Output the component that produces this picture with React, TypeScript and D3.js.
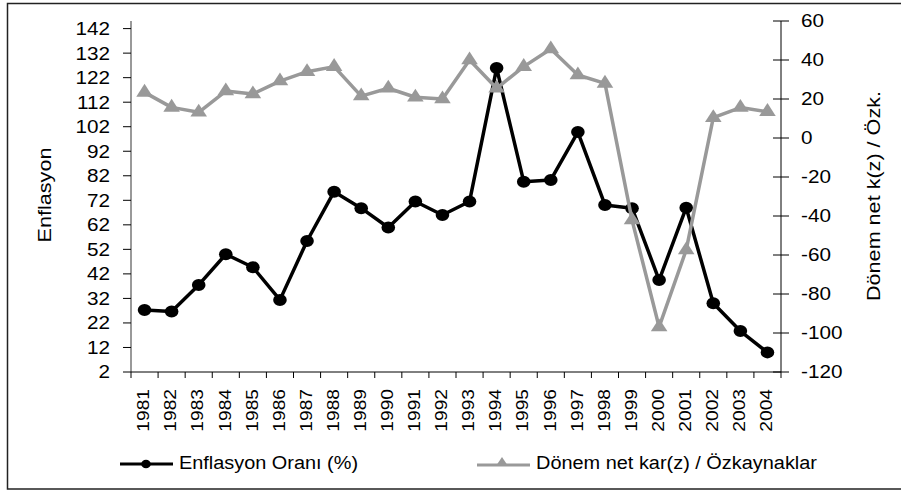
import { useEffect } from "react";
import { scaleBand, scaleLinear, line as d3_line, symbol, symbolTriangle } from "d3";

const years = [
  "1981", "1982", "1983", "1984", "1985", "1986", "1987", "1988", "1989", "1990", "1991", "1992",
  "1993", "1994", "1995", "1996", "1997", "1998", "1999", "2000", "2001", "2002", "2003", "2004",
];

// Enflasyon Oranı (%) - left axis
const inflation = [
  27.3, 26.7, 37.5, 50.0, 44.7, 31.4, 55.4, 75.5, 68.8, 60.9, 71.5, 66.0,
  71.5, 125.9, 79.6, 80.3, 99.8, 70.1, 68.8, 39.5, 69.0, 30.0, 18.7, 10.0,
];

// Dönem net kar(z) / Özkaynaklar - right axis
const roe = [
  23.4, 15.7, 13.2, 24.1, 22.6, 29.2, 34.0, 36.6, 21.5, 25.5, 20.9, 20.0,
  40.0, 25.5, 36.6, 45.6, 32.3, 28.0, -42.1, -96.9, -57.4, 10.4, 15.6, 13.5,
];

const leftTicks = [2, 12, 22, 32, 42, 52, 62, 72, 82, 92, 102, 112, 122, 132, 142];
const rightTicks = [-120, -100, -80, -60, -40, -20, 0, 20, 40, 60];

const W = 901;
const H = 492;
const plot = { left: 131, right: 781, top: 21, bottom: 372 };
const FONT = "'Liberation Sans', Arial, sans-serif";

export default function App() {
  useEffect(() => {
    document.body.style.margin = "0";
  }, []);

  let x = scaleBand<string>().domain(years).range([plot.left, plot.right]);
  let yLeft = scaleLinear().domain([2, 145.1]).range([plot.bottom, plot.top]);
  let yRight = scaleLinear().domain([-120, 60]).range([plot.bottom, plot.top]);
  let cx = (yr: string) => (x(yr) ?? 0) + x.bandwidth() / 2;

  let inflLine = d3_line<number>()
    .x((_, i) => cx(years[i]))
    .y((d) => yLeft(d));
  let roeLine = d3_line<number>()
    .x((_, i) => cx(years[i]))
    .y((d) => yRight(d));

  let tri = symbol().type(symbolTriangle).size(95)() ?? "";
  let triSmall = symbol().type(symbolTriangle).size(48)() ?? "";

  // band boundaries for x ticks
  let bounds = years.map((yr) => x(yr) ?? 0).concat([plot.right]);

  return (
    <svg width={W} height={H} style={{ display: "block" }} fontFamily={FONT}>
      <rect x={0} y={0} width={W} height={H} fill="#fff" />
      {/* chart frame */}
      <rect x={7.5} y={3.5} width={W + 10} height={485.5} fill="none" stroke="#222" strokeWidth={1.5} />

      {/* left axis */}
      <line x1={plot.left} x2={plot.left} y1={plot.top} y2={plot.bottom} stroke="#777" strokeWidth={1.5} />
      {leftTicks.map((t) => (
        <g key={t}>
          <line x1={plot.left - 8} x2={plot.left} y1={yLeft(t)} y2={yLeft(t)} stroke="#000" strokeWidth={1} />
          <text
            transform={`translate(110,${yLeft(t)}) scale(1.15,1)`}
            dy="0.36em"
            textAnchor="end"
            fontSize={18}
            fill="#000"
          >
            {t}
          </text>
        </g>
      ))}

      {/* right axis */}
      <line x1={plot.right} x2={plot.right} y1={plot.top} y2={plot.bottom} stroke="#000" strokeWidth={1} />
      {rightTicks.map((t) => (
        <g key={t}>
          <line x1={plot.right - 8} x2={plot.right + 8} y1={yRight(t)} y2={yRight(t)} stroke="#000" strokeWidth={1} />
          <text
            transform={`translate(801,${yRight(t)}) scale(1.15,1)`}
            dy="0.36em"
            textAnchor="start"
            fontSize={18}
            fill="#000"
          >
            {t}
          </text>
        </g>
      ))}

      {/* x axis */}
      <line x1={plot.left} x2={plot.right} y1={plot.bottom} y2={plot.bottom} stroke="#000" strokeWidth={1} />
      {bounds.map((b, i) => (
        <line key={i} x1={b} x2={b} y1={plot.bottom} y2={plot.bottom + 6} stroke="#000" strokeWidth={1} />
      ))}
      {years.map((yr) => (
        <text
          key={yr}
          transform={`translate(${cx(yr) - 1},389) rotate(-90) scale(1.2,1)`}
          dy="0.36em"
          textAnchor="end"
          fontSize={16}
          fill="#000"
        >
          {yr}
        </text>
      ))}

      {/* axis titles */}
      <text
        transform={`translate(45,195) rotate(-90) scale(1.2,1)`}
        dy="0.36em"
        textAnchor="middle"
        fontSize={18}
        fill="#000"
      >
        Enflasyon
      </text>
      <text
        transform={`translate(874,196) rotate(-90) scale(1.2,1)`}
        dy="0.36em"
        textAnchor="middle"
        fontSize={18}
        fill="#000"
      >
        Dönem net k(z) / Özk.
      </text>

      {/* black series */}
      <path d={inflLine(inflation) ?? ""} fill="none" stroke="#000" strokeWidth={3.5} strokeLinejoin="round" />
      {inflation.map((v, i) => (
        <ellipse key={i} cx={cx(years[i])} cy={yLeft(v)} rx={6.8} ry={6} fill="#000" />
      ))}

      {/* gray series (secondary axis, drawn on top) */}
      <path d={roeLine(roe) ?? ""} fill="none" stroke="#999" strokeWidth={3.5} strokeLinejoin="round" />
      {roe.map((v, i) => (
        <path key={i} d={tri} transform={`translate(${cx(years[i])},${yRight(v)}) scale(1.12,1)`} fill="#999" />
      ))}

      {/* legend */}
      <line x1={120} x2={173} y1={464} y2={464} stroke="#000" strokeWidth={3} />
      <ellipse cx={146} cy={464} rx={4.8} ry={4.3} fill="#000" />
      <text x={179} y={469} fontSize={18} fill="#000" textLength={179} lengthAdjust="spacingAndGlyphs">
        Enflasyon Oranı (%)
      </text>
      <line x1={477} x2={530} y1={465} y2={465} stroke="#999" strokeWidth={3} />
      <path d={triSmall} transform="translate(502,463) scale(1.15,1)" fill="#999" />
      <text x={536} y={469} fontSize={18} fill="#000" textLength={281} lengthAdjust="spacingAndGlyphs">
        Dönem net kar(z) / Özkaynaklar
      </text>
    </svg>
  );
}
